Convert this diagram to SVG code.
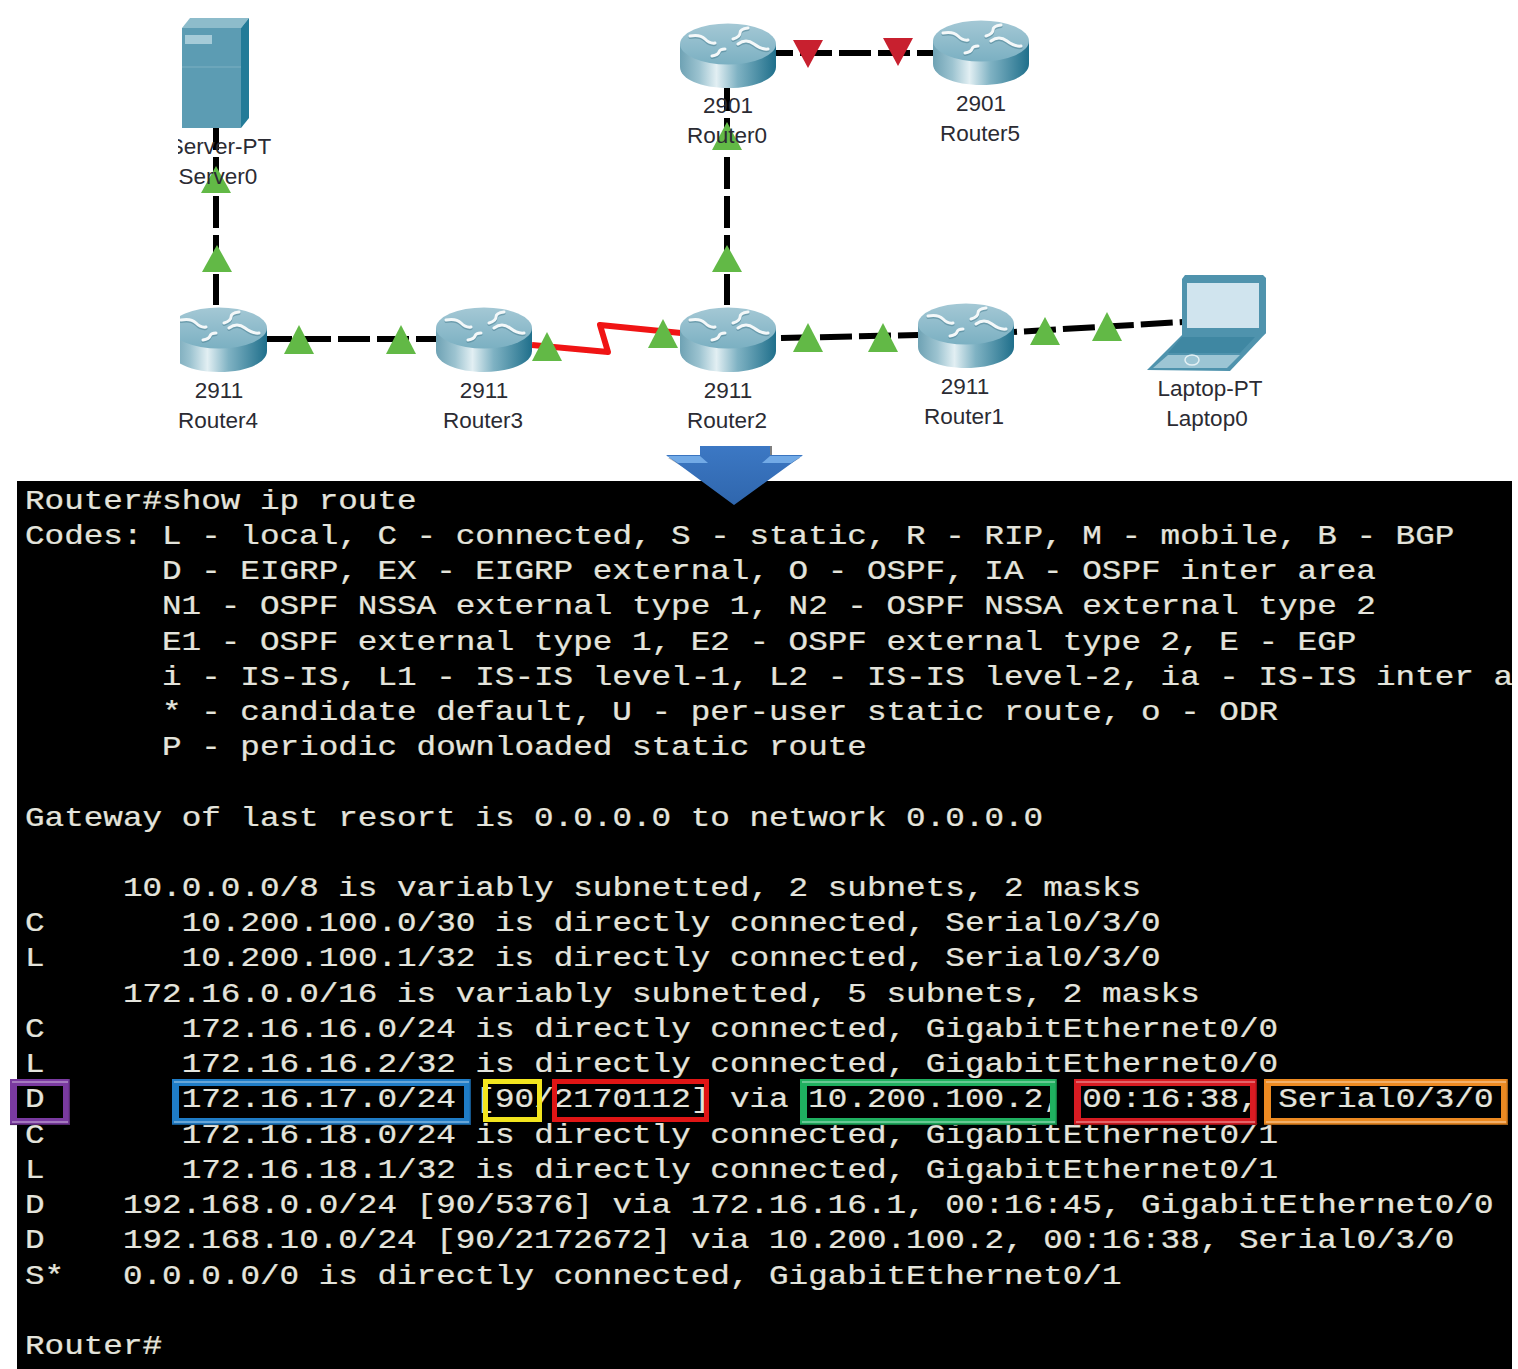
<svg xmlns="http://www.w3.org/2000/svg" width="1518" height="1369" viewBox="0 0 1518 1369">
<style>
.lbl{font-family:"Liberation Sans",Arial,sans-serif;font-size:22.5px;fill:#2b2b33;text-anchor:middle}
.term{font-family:"Liberation Mono","Courier New",monospace;font-size:27.2px;fill:#e4e4dc;stroke:#e4e4dc;stroke-width:.25}
.link{fill:none;stroke:#000;stroke-width:6;stroke-dasharray:32 7}
.up{fill:#62b946}
.down{fill:#c8202f}
.fr{fill:none;stroke-width:7}
.fs{fill:none;stroke-width:5}
.hi{fill:none;stroke-width:2;stroke:#fff;stroke-opacity:.32}
.lo{fill:none;stroke-width:1.5;stroke:#000;stroke-opacity:.3}
.arw{fill:none;stroke:#f4f8f9;stroke-width:3;stroke-linecap:round;stroke-linejoin:round}
.ars{fill:none;stroke:#4d8294;stroke-width:3;stroke-linecap:round;stroke-linejoin:round;opacity:.55}
</style>
<defs>
<linearGradient id="body" x1="0" x2="1" y1="0" y2="0">
<stop offset="0" stop-color="#6ea2b4"/><stop offset=".2" stop-color="#9cc3d0"/><stop offset=".38" stop-color="#e2eff3"/><stop offset=".6" stop-color="#7fb2c3"/><stop offset="1" stop-color="#1f6f8b"/>
</linearGradient>
<linearGradient id="top" x1="0" x2="0" y1="0" y2="1">
<stop offset="0" stop-color="#a4c8d5"/><stop offset="1" stop-color="#7bb0c2"/>
</linearGradient>
<linearGradient id="arrowFill" x1="0" x2="0" y1="0" y2="1">
<stop offset="0" stop-color="#3c78c4"/><stop offset="1" stop-color="#2f66ad"/>
</linearGradient>
<clipPath id="termClip"><rect x="17" y="481" width="1495" height="888"/></clipPath>
<clipPath id="topClip"><rect x="178" y="0" width="1340" height="446"/></clipPath>
<clipPath id="routerClip"><rect x="180" y="0" width="1338" height="446"/></clipPath>
<symbol id="router" width="96" height="65" viewBox="0 0 96 65" overflow="visible">
<path d="M0 21V44C0 56 21 65 48 65S96 56 96 44V21Z" fill="url(#body)"/>
<ellipse cx="48" cy="21" rx="48" ry="20.5" fill="url(#top)"/>
<g transform="translate(0,1.5)" class="ars">
<path d="M10 13Q20 11 25 16T35 20"/><path d="M68 5Q60 6 60 10T53 16"/><path d="M58 21Q66 15 74 21T88 26"/><path d="M45 26Q40 26 39 29T32 33"/>
</g>
<g class="arw">
<path d="M10 13Q20 11 25 16T35 20"/><path d="M68 5Q60 6 60 10T53 16"/><path d="M58 21Q66 15 74 21T88 26"/><path d="M45 26Q40 26 39 29T32 33"/>
</g>
</symbol>
</defs>
<rect width="1518" height="1369" fill="#fff"/>

<g id="terminal">
<rect x="17" y="481" width="1495" height="888" fill="#000"/>
<g clip-path="url(#termClip)">
<g transform="translate(25,0) scale(1.2,1)" class="term">
<text y="509">Router#show ip route</text>
<text y="544">Codes: L - local, C - connected, S - static, R - RIP, M - mobile, B - BGP</text>
<text x="114.2" y="579">D - EIGRP, EX - EIGRP external, O - OSPF, IA - OSPF inter area</text>
<text x="114.2" y="614">N1 - OSPF NSSA external type 1, N2 - OSPF NSSA external type 2</text>
<text x="114.2" y="650">E1 - OSPF external type 1, E2 - OSPF external type 2, E - EGP</text>
<text x="114.2" y="685">i - IS-IS, L1 - IS-IS level-1, L2 - IS-IS level-2, ia - IS-IS inter area</text>
<text x="114.2" y="720">* - candidate default, U - per-user static route, o - ODR</text>
<text x="114.2" y="755">P - periodic downloaded static route</text>
<text y="826">Gateway of last resort is 0.0.0.0 to network 0.0.0.0</text>
<text x="81.6" y="896">10.0.0.0/8 is variably subnetted, 2 subnets, 2 masks</text>
<text y="931">C</text><text x="130.6" y="931">10.200.100.0/30 is directly connected, Serial0/3/0</text>
<text y="966">L</text><text x="130.6" y="966">10.200.100.1/32 is directly connected, Serial0/3/0</text>
<text x="81.6" y="1002">172.16.0.0/16 is variably subnetted, 5 subnets, 2 masks</text>
<text y="1037">C</text><text x="130.6" y="1037">172.16.16.0/24 is directly connected, GigabitEthernet0/0</text>
<text y="1072">L</text><text x="130.6" y="1072">172.16.16.2/32 is directly connected, GigabitEthernet0/0</text>
<text y="1107">D</text><text x="130.6" y="1107">172.16.17.0/24 [90/2170112] via 10.200.100.2, 00:16:38, Serial0/3/0</text>
<text y="1143">C</text><text x="130.6" y="1143">172.16.18.0/24 is directly connected, GigabitEthernet0/1</text>
<text y="1178">L</text><text x="130.6" y="1178">172.16.18.1/32 is directly connected, GigabitEthernet0/1</text>
<text y="1213">D</text><text x="81.6" y="1213">192.168.0.0/24 [90/5376] via 172.16.16.1, 00:16:45, GigabitEthernet0/0</text>
<text y="1248">D</text><text x="81.6" y="1248">192.168.10.0/24 [90/2172672] via 10.200.100.2, 00:16:38, Serial0/3/0</text>
<text y="1284">S*</text><text x="81.6" y="1284">0.0.0.0/0 is directly connected, GigabitEthernet0/1</text>
<text y="1354">Router#</text>
</g>
</g>
</g>

<g id="connectors">
<path class="link" d="M216 128V305" stroke-dashoffset="10"/>
<path class="link" d="M267 339H437" stroke-dashoffset="7"/>
<path d="M532 345L608 352L600 325L681 333" fill="none" stroke="#f01414" stroke-width="6" stroke-linejoin="round"/>
<path class="link" d="M781 338L918 335"/>
<path class="link" d="M1014 332L1183 322" stroke-dashoffset="29"/>
<path class="link" d="M776 53H933" stroke-dashoffset="15"/>
<path class="link" d="M727 87V305" stroke-dashoffset="8"/>
</g>

<g id="server0">
<path d="M182 28L190 18H249L241 28Z" fill="#8dbccb"/>
<rect x="182" y="28" width="59" height="100" fill="#5c9cb3"/>
<path d="M241 28L249 18V118L241 128Z" fill="#237b98"/>
<rect x="185" y="35" width="27" height="9" fill="#a5cbd8"/>
<path d="M182 67H241" stroke="#7db0c2" stroke-width="1"/>
</g>
<g clip-path="url(#routerClip)">
<use id="router4" href="#router" x="171" y="307"/>
</g>
<use id="router3" href="#router" x="436" y="307"/>
<use id="router2" href="#router" x="680" y="307"/>
<use id="router1" href="#router" x="918" y="303"/>
<use id="router0" href="#router" x="680" y="23"/>
<use id="router5" href="#router" x="933" y="20"/>
<g id="laptop0">
<path d="M1182 335L1266 333L1230 371L1147 370Z" fill="#4f93ad"/>
<path d="M1182 279L1185 275H1263L1266 278V333L1262 336H1182Z" fill="#4f93ad"/>
<rect x="1187" y="283" width="72" height="45" fill="#d0e4ee"/>
<path d="M1182 337H1255L1240 353H1168Z" fill="#3f87a2"/>
<path d="M1168 355H1240L1227 368H1153Z" fill="#9cc5d4"/>
<ellipse cx="1192" cy="360" rx="7" ry="5" fill="none" stroke="#e4f0f4" stroke-width="1.5"/>
</g>

<g id="status">
<path class="up" d="M216 166L231 193H201Z"/>
<path class="up" d="M217 245L232 272H202Z"/>
<path class="up" d="M299 325L314 354H284Z"/>
<path class="up" d="M401 325L416 354H386Z"/>
<path class="up" d="M547 332L562 361H532Z"/>
<path class="up" d="M663 319L678 348H648Z"/>
<path class="up" d="M808 323L823 352H793Z"/>
<path class="up" d="M883 323L898 352H868Z"/>
<path class="up" d="M1045 317L1060 345H1030Z"/>
<path class="up" d="M1107 312L1122 341H1092Z"/>
<path class="up" d="M727 122L742 150H712Z"/>
<path class="up" d="M727 245L742 272H712Z"/>
<path class="down" d="M793 40H823L808 68Z"/>
<path class="down" d="M883 38H913L898 66Z"/>
</g>

<g id="labels" class="lbl" clip-path="url(#topClip)">
<text x="220" y="154">Server-PT</text><text x="218" y="184">Server0</text>
<text x="219" y="398">2911</text><text x="218" y="428">Router4</text>
<text x="484" y="398">2911</text><text x="483" y="428">Router3</text>
<text x="728" y="398">2911</text><text x="727" y="428">Router2</text>
<text x="965" y="394">2911</text><text x="964" y="424">Router1</text>
<text x="1210" y="396">Laptop-PT</text><text x="1207" y="426">Laptop0</text>
<text x="728" y="113">2901</text><text x="727" y="143">Router0</text>
<text x="981" y="111">2901</text><text x="980" y="141">Router5</text>
</g>

<g id="down-arrow">
<path d="M668 458H800L762 481H706Z" fill="#bdbdbd"/>
<path d="M700 446H770V455H803L734 505L666 455H700Z" fill="url(#arrowFill)"/>
<path d="M667 456H700L708 463H678Z" fill="#72aae6"/>
<path d="M802 456H770L762 463H791Z" fill="#72aae6"/>
<path d="M771 446V455" stroke="#555" stroke-width="1.5"/>
</g>

<g id="highlights">
<g id="h-code"><rect class="fr" x="13.5" y="1082.5" width="53" height="39" stroke="#7a3aa0"/><path class="hi" d="M12 1082H68M12 1122H68"/><path class="lo" d="M10 1124.5H70M69.5 1079V1125"/></g>
<g id="h-network"><rect class="fr" x="175.5" y="1082.5" width="292" height="39" stroke="#1f7cc6"/><path class="hi" d="M174 1082H469M174 1122H469"/><path class="lo" d="M172 1124.5H471M470.5 1079V1125"/></g>
<g id="h-ad"><rect class="fs" x="485.5" y="1081.5" width="54" height="38" stroke="#f2e51e"/></g>
<g id="h-metric"><rect class="fs" x="554.5" y="1081.5" width="152" height="38" stroke="#e01515"/></g>
<g id="h-nexthop"><rect class="fr" x="803.5" y="1082.5" width="250" height="39" stroke="#1fb060"/><path class="hi" d="M802 1082H1055M802 1122H1055"/><path class="lo" d="M800 1124.5H1057M1056.5 1079V1125"/></g>
<g id="h-time"><rect class="fr" x="1077.5" y="1082.5" width="176" height="39" stroke="#d81b22"/><path class="hi" d="M1076 1082H1255M1076 1122H1255"/><path class="lo" d="M1074 1124.5H1257M1256.5 1079V1125"/></g>
<g id="h-iface"><rect class="fr" x="1267.5" y="1082.5" width="237" height="39" stroke="#ec8a22"/><path class="hi" d="M1266 1082H1506M1266 1122H1506"/><path class="lo" d="M1264 1124.5H1508M1507.5 1079V1125"/></g>
</g>
</svg>
